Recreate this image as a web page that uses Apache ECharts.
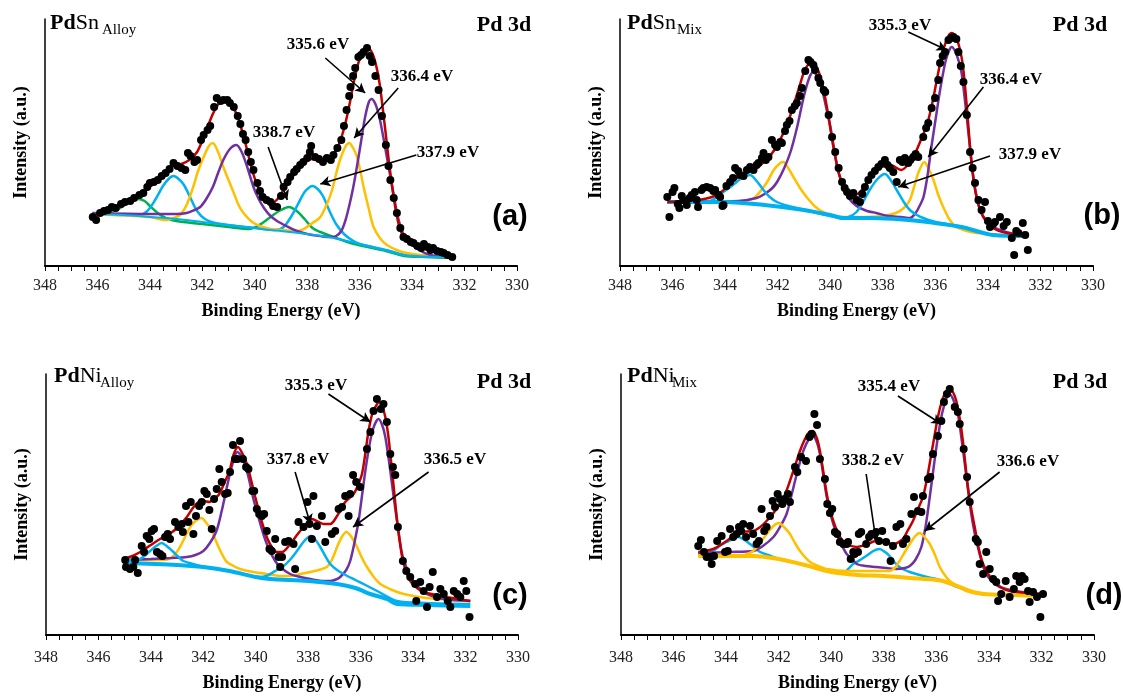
<!DOCTYPE html>
<html>
<head>
<meta charset="utf-8">
<script src="https://cdn.jsdelivr.net/npm/echarts@6/dist/echarts.min.js"></script>
<style>
  html, body { margin: 0; padding: 0; background: #fff; }
  #main { width: 1123px; height: 697px; }
</style>
</head>
<body>
<div id="main"></div>
<script>
// Pd 3d XPS spectra, four samples. points are [binding energy (eV), intensity (a.u.)]
var SERIF = '"Liberation Serif", "Times New Roman", serif';

// ---------- (a) PdSn alloy ----------
var aDots = [[346.18,49],[346.05,46],[345.9,53],[345.75,55],[345.6,56],[345.45,59],[345.3,58],[345.1,62],[344.95,64],[344.75,65],[344.6,68],[344.4,71],[344.25,73],[344.1,79],[344.0,83],[343.85,84],[343.7,86],[343.55,90],[343.4,93],[343.25,97],[343.1,103],[342.95,100],[342.8,98],[342.65,96],[342.55,113],[342.45,110],[342.3,104],[342.2,106],[342.05,126],[341.95,131],[341.8,136],[341.7,140],[341.55,159],[341.45,168],[341.3,165],[341.2,166],[341.05,166],[340.95,163],[340.8,159],[340.65,150],[340.55,142],[340.45,132],[340.35,126],[340.25,114],[340.15,104],[340.05,96],[339.9,83],[339.8,75],[339.7,69],[339.55,66],[339.4,64],[339.3,60],[339.15,59],[339.0,70],[338.9,79],[338.75,84],[338.65,89],[338.5,94],[338.4,97],[338.27,101],[338.15,104],[338.0,108],[337.9,114],[337.85,120],[337.7,109],[337.55,107],[337.4,104],[337.25,108],[337.1,106],[337.0,111],[336.85,118],[336.7,126],[336.6,140],[336.5,156],[336.4,170],[336.35,179],[336.25,190],[336.17,198],[336.05,209],[335.95,211],[335.85,214],[335.72,218],[335.62,210],[335.53,204],[335.4,190],[335.28,176],[335.15,150],[335.0,121],[334.9,100],[334.83,86],[334.7,68],[334.58,53],[334.45,38],[334.33,29],[334.2,27],[334.05,24],[333.95,23],[333.8,20],[333.65,18],[333.55,22],[333.4,19],[333.3,16],[333.2,18],[333.05,15],[332.9,14],[332.8,13],[332.65,11],[332.47,9]];
var aFit = [[346.2,50],[345.8,54],[345.4,58],[345.0,63],[344.6,68],[344.2,75],[343.8,84],[343.4,94],[343.1,100],[342.8,102],[342.5,106],[342.2,114],[341.9,132],[341.6,152],[341.35,163],[341.1,166],[340.85,160],[340.6,145],[340.35,122],[340.1,96],[339.85,77],[339.6,66],[339.35,63],[339.1,68],[338.85,79],[338.6,88],[338.35,96],[338.1,103],[337.85,107],[337.6,106],[337.35,105],[337.1,109],[336.85,118],[336.6,137],[336.4,160],[336.2,187],[336.0,207],[335.8,215],[335.65,217],[335.45,208],[335.25,184],[335.05,142],[334.85,97],[334.65,60],[334.45,36],[334.2,25],[333.9,21],[333.5,17],[333.0,13],[332.47,9]];
var aGreen = [[346.2,51],[345.6,53],[345.2,57],[344.9,62],[344.65,66],[344.45,67],[344.2,65],[344.0,60],[343.7,53],[343.4,48],[343.0,45],[342.0,42],[341.0,39],[340.2,37],[339.9,40],[339.6,45],[339.3,51],[339.0,56],[338.7,59],[338.4,55],[338.1,47],[337.8,38],[337.5,34],[337.0,29],[336.2,22],[335.0,15],[334.3,10],[333.5,9],[332.47,8]];
var aCyan = [[346.2,52],[345.0,51],[344.4,51],[344.1,55],[343.8,66],[343.5,80],[343.25,88],[343.1,90],[342.9,87],[342.7,81],[342.45,68],[342.2,55],[341.9,47],[341.5,43],[341.0,41],[340.0,38],[339.2,36],[338.9,39],[338.6,50],[338.35,62],[338.1,74],[337.9,79],[337.8,80],[337.6,77],[337.4,70],[337.15,55],[336.9,42],[336.6,32],[336.3,26],[336.0,22],[335.0,16],[334.3,11],[333.5,9.5],[332.47,9]];
var aYellow = [[346.2,52],[344.0,49],[343.4,46],[343.1,48],[342.85,51],[342.6,61],[342.35,79],[342.15,96],[341.95,109],[341.75,120],[341.6,123],[341.4,114],[341.2,99],[341.0,86],[340.8,73],[340.6,60],[340.4,52],[340.1,44],[339.8,40],[339.4,37],[339.0,36],[338.5,35],[338.2,36],[337.8,43],[337.5,49],[337.25,62],[337.05,76],[336.9,92],[336.75,106],[336.55,119],[336.4,123],[336.25,118],[336.1,109],[335.95,92],[335.85,79],[335.65,57],[335.47,39],[335.2,27],[334.96,21],[334.5,15],[334.0,12],[333.3,10],[332.47,9]];
var aPurple = [[346.2,53],[344.0,52],[343.0,52],[342.6,53],[342.3,56],[342.08,59],[341.85,67],[341.6,79],[341.4,93],[341.2,106],[340.95,117],[340.7,121],[340.5,114],[340.3,100],[340.05,79],[339.85,67],[339.65,58],[339.4,50],[339.15,45],[338.8,40],[338.4,35],[338.0,32],[337.5,30],[337.1,29],[336.9,30],[336.7,35],[336.55,45],[336.4,60],[336.25,78],[336.1,100],[335.95,124],[335.8,148],[335.65,164],[335.55,167],[335.4,162],[335.25,149],[335.1,129],[334.95,107],[334.75,78],[334.55,50],[334.35,33],[334.1,24],[333.8,17],[333.3,11],[332.47,9]];
var aBase = [[346.2,52],[345.0,51],[344.0,49],[343.0,47],[342.0,44],[341.0,41],[340.0,38],[339.4,36],[339.0,35],[338.0,32],[337.0,28],[336.0,22],[335.0,16],[334.3,11],[333.5,9.5],[332.47,9]];

// ---------- (b) PdSn mix ----------
var bDots = [[346.2,69],[346.12,49],[346.0,74],[345.93,78],[345.8,62],[345.74,58],[345.65,70],[345.59,66],[345.46,61],[345.35,68],[345.27,71],[345.15,74],[345.08,66],[345.03,59],[344.9,76],[344.83,78],[344.7,79],[344.57,78],[344.45,75],[344.38,76],[344.25,71],[344.19,69],[344.1,60],[344.06,61],[343.95,80],[343.81,84],[343.7,88],[343.62,98],[343.5,95],[343.43,91],[343.3,90],[343.17,96],[343.05,99],[342.92,96],[342.8,101],[342.73,103],[342.6,108],[342.54,113],[342.45,106],[342.35,109],[342.22,126],[342.1,121],[342.03,119],[341.9,124],[341.84,123],[341.72,135],[341.65,141],[341.55,145],[341.46,156],[341.35,160],[341.27,163],[341.15,170],[341.08,178],[340.95,195],[340.83,206],[340.75,204],[340.64,201],[340.58,196],[340.45,188],[340.38,183],[340.25,176],[340.19,174],[340.06,151],[339.93,129],[339.81,114],[339.68,98],[339.55,84],[339.45,78],[339.36,74],[339.25,70],[339.12,73],[339.0,66],[338.87,64],[338.78,72],[338.68,79],[338.55,86],[338.43,91],[338.3,95],[338.17,99],[338.05,102],[337.92,106],[337.82,101],[337.73,98],[337.6,94],[337.47,84],[337.35,106],[337.25,104],[337.16,108],[337.03,103],[336.95,106],[336.84,109],[336.75,112],[336.65,109],[336.46,129],[336.35,138],[336.27,143],[336.14,158],[336.01,168],[335.89,186],[335.82,203],[335.72,210],[335.63,214],[335.5,226],[335.4,228],[335.31,229],[335.2,227],[335.12,214],[335.03,200],[334.93,184],[334.8,151],[334.68,114],[334.58,98],[334.49,83],[334.36,66],[334.24,56],[334.11,64],[334.0,45],[333.92,39],[333.8,42],[333.73,44],[333.54,49],[333.4,40],[333.28,44],[333.09,28],[333.0,11],[332.92,35],[332.84,33],[332.67,43],[332.58,31],[332.48,16]];
var bFit = [[346.2,64],[345.5,65],[345.0,66],[344.5,69],[344.1,75],[343.7,85],[343.3,92],[343.0,95],[342.7,100],[342.4,107],[342.1,117],[341.8,132],[341.5,152],[341.2,177],[340.95,197],[340.7,204],[340.5,198],[340.3,182],[340.1,155],[339.9,122],[339.7,96],[339.5,80],[339.3,73],[339.06,71],[338.8,76],[338.5,88],[338.2,99],[337.92,103],[337.6,100],[337.3,96],[337.05,101],[336.8,111],[336.55,126],[336.3,143],[336.1,165],[335.9,192],[335.7,216],[335.5,230],[335.38,233],[335.2,228],[335.06,216],[334.95,200],[334.8,159],[334.62,102],[334.43,69],[334.17,49],[333.67,36],[332.9,31],[332.5,29]];
var bCyan = [[346.2,64],[344.6,65],[344.3,69],[344.07,74],[343.8,79],[343.56,84],[343.3,89],[343.05,91],[342.8,85],[342.54,76],[342.3,69],[342.03,64],[341.6,60],[341.27,58],[340.5,53],[340.0,50],[339.6,48],[339.3,49],[339.0,54],[338.75,64],[338.5,76],[338.2,87],[337.92,92],[337.7,86],[337.47,76],[337.2,64],[336.97,56],[336.7,51],[336.46,48],[336.0,44],[335.0,39],[334.3,34],[333.8,31],[332.5,30]];
var bYellow = [[346.2,64],[344.0,64],[343.3,65],[342.9,68],[342.65,75],[342.4,84],[342.15,96],[341.9,103],[341.78,104],[341.6,98],[341.4,89],[341.15,78],[340.9,69],[340.6,60],[340.4,56],[340.0,51],[339.6,49],[339.0,49],[338.0,50],[337.5,53],[337.2,58],[336.97,66],[336.8,80],[336.65,93],[336.42,104],[336.25,97],[336.07,86],[335.9,72],[335.7,59],[335.45,46],[335.2,39],[334.8,35],[334.43,33],[333.5,31],[332.5,30]];
var bPurple = [[346.2,64],[343.5,65],[342.8,68],[342.5,72],[342.2,78],[342.0,85],[341.75,98],[341.5,115],[341.25,140],[341.0,170],[340.8,188],[340.65,194],[340.5,190],[340.3,175],[340.15,158],[340.0,140],[339.85,117],[339.7,95],[339.5,79],[339.3,68],[339.0,60],[338.6,55],[338.25,53],[337.8,50],[337.3,49],[336.97,48],[336.75,53],[336.6,60],[336.45,69],[336.3,90],[336.15,119],[336.0,145],[335.8,179],[335.6,206],[335.45,217],[335.38,219],[335.25,215],[335.1,204],[335.0,193],[334.87,165],[334.74,133],[334.62,104],[334.5,79],[334.35,60],[334.17,49],[333.9,41],[333.54,36],[333.0,32],[332.5,30]];
var bBase = [[346.2,64],[344.0,64],[342.5,61],[341.0,56],[340.0,51],[339.5,48],[338.5,48],[337.5,47],[337.0,46],[336.0,43],[335.0,39],[334.3,34],[333.8,31],[332.5,30]];

// ---------- (c) PdNi alloy ----------
var cDots = [[344.98,75],[344.95,68],[344.8,66],[344.67,68],[344.6,75],[344.5,62],[344.35,89],[344.26,83],[344.16,99],[344.06,96],[343.97,104],[343.88,106],[343.77,83],[343.65,81],[343.56,79],[343.46,98],[343.36,101],[343.27,96],[343.08,113],[342.95,108],[342.82,111],[342.78,103],[342.66,129],[342.57,113],[342.48,133],[342.38,101],[342.28,119],[342.16,129],[342.06,133],[341.96,144],[341.87,141],[341.77,125],[341.68,106],[341.59,136],[341.49,146],[341.39,166],[341.3,153],[341.17,141],[341.07,142],[340.98,163],[340.87,190],[340.79,176],[340.7,176],[340.6,194],[340.49,176],[340.37,168],[340.28,166],[340.13,144],[340.06,144],[339.96,126],[339.87,121],[339.77,119],[339.68,121],[339.58,104],[339.48,86],[339.39,84],[339.26,96],[339.13,78],[339.07,68],[339.0,78],[338.88,93],[338.75,94],[338.56,91],[338.5,66],[338.37,113],[338.18,108],[338.03,133],[337.95,111],[337.86,96],[337.8,139],[337.67,109],[337.48,119],[337.35,93],[337.1,101],[336.97,104],[336.84,126],[336.71,128],[336.59,139],[336.46,119],[336.4,141],[336.29,160],[336.17,153],[336.02,148],[335.76,186],[335.63,203],[335.51,224],[335.38,236],[335.23,226],[335.13,231],[335.0,213],[334.87,181],[334.77,168],[334.68,160],[334.58,108],[334.39,74],[334.26,64],[334.11,58],[333.92,51],[333.88,34],[333.73,53],[333.6,44],[333.47,28],[333.37,48],[333.25,63],[333.09,38],[332.96,46],[332.83,41],[332.68,34],[332.58,28],[332.45,44],[332.32,41],[332.2,38],[332.07,54],[331.97,44],[331.85,18]];
var cFit = [[345.05,76],[344.7,79],[344.41,83],[344.0,90],[343.65,96],[343.3,101],[343.0,107],[342.63,118],[342.4,127],[342.19,133],[342.0,134],[341.77,133],[341.55,137],[341.39,141],[341.2,152],[341.0,164],[340.85,180],[340.68,188],[340.5,181],[340.34,171],[340.18,155],[340.02,138],[339.85,121],[339.71,108],[339.55,96],[339.39,88],[339.2,83],[339.0,83],[338.69,91],[338.4,101],[338.18,108],[337.86,116],[337.6,113],[337.42,111],[337.16,111],[336.9,119],[336.59,133],[336.27,141],[336.1,150],[335.95,161],[335.82,182],[335.7,204],[335.55,222],[335.44,228],[335.3,233],[335.15,226],[335.06,218],[334.95,200],[334.87,181],[334.74,148],[334.61,114],[334.48,88],[334.36,71],[334.11,54],[333.85,47],[333.6,43],[332.96,39],[331.82,34]];
var cCyan = [[345.05,74],[344.75,75],[344.41,76],[344.2,80],[344.03,84],[343.8,89],[343.59,92],[343.4,89],[343.14,83],[342.95,78],[342.76,74],[342.4,71],[342.12,69],[341.5,66],[340.85,63],[340.3,60],[339.83,58],[339.6,59],[339.45,61],[339.2,65],[338.94,69],[338.7,75],[338.43,84],[338.15,94],[337.9,99],[337.72,95],[337.54,88],[337.35,79],[337.16,71],[336.9,65],[336.65,61],[336.2,55],[335.89,51],[335.3,43],[334.61,34],[333.5,32],[331.82,31]];
var cYellow = [[345.05,75],[343.5,75],[343.14,79],[342.89,88],[342.7,98],[342.5,108],[342.3,114],[342.08,117],[341.88,112],[341.68,104],[341.55,96],[341.42,88],[341.25,79],[341.1,73],[340.85,69],[340.6,66],[340.1,63],[339.58,61],[339.0,59],[338.69,59],[338.3,61],[337.92,63],[337.6,65],[337.29,68],[337.1,75],[336.9,88],[336.72,98],[336.55,103],[336.35,98],[336.14,88],[335.95,77],[335.76,68],[335.5,58],[335.25,51],[334.8,45],[334.36,41],[333.5,37],[331.82,34]];
var cPurple = [[345.05,75],[344.0,76],[343.2,77],[342.63,78],[342.3,80],[342.0,84],[341.75,92],[341.5,104],[341.3,124],[341.1,148],[340.9,170],[340.7,183],[340.5,177],[340.28,158],[340.1,137],[339.9,118],[339.7,100],[339.5,86],[339.26,74],[339.07,68],[338.69,61],[338.3,58],[337.92,56],[337.4,54],[337.16,54],[336.9,56],[336.78,58],[336.55,65],[336.4,74],[336.24,92],[336.08,114],[335.92,145],[335.76,175],[335.55,204],[335.32,216],[335.18,210],[335.06,198],[334.9,170],[334.74,138],[334.58,108],[334.42,81],[334.25,67],[334.11,58],[333.8,48],[333.47,41],[332.8,36],[331.82,34]];
var cBase = [[345.05,72],[343.0,70],[342.0,68],[341.0,64],[340.0,58],[339.45,56],[338.0,54],[336.9,51],[336.2,47],[335.63,41],[335.0,36],[334.61,31],[333.5,30],[331.82,29]];

// ---------- (d) PdNi mix ----------
var dDots = [[345.06,89],[344.96,95],[344.84,83],[344.74,78],[344.61,78],[344.55,71],[344.46,79],[344.34,94],[344.17,99],[344.04,83],[343.94,84],[343.85,106],[343.73,98],[343.6,101],[343.51,108],[343.43,104],[343.35,111],[343.24,98],[343.09,109],[342.97,101],[342.84,91],[342.75,94],[342.65,126],[342.55,104],[342.46,108],[342.33,119],[342.23,134],[342.14,128],[342.04,141],[341.95,136],[341.86,131],[341.76,136],[341.65,141],[341.57,133],[341.38,168],[341.29,163],[341.15,178],[340.96,174],[340.83,198],[340.74,201],[340.64,221],[340.54,210],[340.43,176],[340.24,156],[340.15,131],[340.05,122],[339.96,126],[339.86,103],[339.77,101],[339.67,93],[339.54,91],[339.41,91],[339.36,93],[339.26,76],[339.16,83],[339.11,81],[338.98,83],[338.95,101],[338.86,103],[338.67,91],[338.56,98],[338.47,101],[338.29,103],[338.18,94],[338.06,104],[337.91,93],[337.74,74],[337.65,89],[337.52,108],[337.37,111],[337.27,91],[337.14,96],[336.95,121],[336.85,138],[336.7,124],[336.57,123],[336.51,139],[336.32,156],[336.23,158],[336.13,181],[335.94,199],[335.81,214],[335.71,233],[335.6,241],[335.49,246],[335.3,228],[335.18,223],[335.11,211],[334.96,186],[334.83,158],[334.73,133],[334.5,96],[334.42,93],[334.35,71],[334.22,61],[334.1,83],[333.97,66],[333.84,56],[333.72,53],[333.65,34],[333.53,41],[333.36,54],[333.21,38],[333.05,46],[332.96,59],[332.83,53],[332.74,59],[332.64,56],[332.51,44],[332.45,33],[332.32,43],[332.17,38],[332.04,18],[331.94,41]];
var dFit = [[345.06,83],[344.49,86],[343.98,94],[343.47,103],[342.97,104],[342.7,108],[342.46,114],[342.2,122],[341.95,131],[341.75,141],[341.57,154],[341.38,169],[341.19,184],[341.0,196],[340.83,203],[340.7,204],[340.55,197],[340.43,184],[340.3,163],[340.17,141],[340.05,126],[339.92,114],[339.67,98],[339.41,91],[339.05,88],[338.7,90],[338.29,94],[337.95,93],[337.65,91],[337.27,96],[337.1,104],[336.89,114],[336.7,126],[336.51,138],[336.35,157],[336.19,181],[336.05,202],[335.94,218],[335.8,233],[335.68,241],[335.5,247],[335.35,242],[335.24,234],[335.1,215],[334.99,194],[334.9,172],[334.8,148],[334.67,126],[334.54,108],[334.38,86],[334.22,71],[334.0,60],[333.84,54],[333.5,47],[333.21,44],[332.5,42],[331.94,41]];
var dCyan = [[345.06,81],[344.75,82],[344.49,84],[344.2,90],[343.98,93],[343.75,96],[343.54,98],[343.3,95],[343.09,91],[342.9,87],[342.71,83],[342.4,80],[342.0,76],[341.5,73],[341.0,70],[340.5,66],[340.0,63],[339.55,62],[339.35,66],[339.17,71],[338.9,75],[338.67,79],[338.4,84],[338.16,86],[337.95,83],[337.78,79],[337.6,73],[337.4,68],[337.2,65],[337.01,63],[336.5,59],[336.0,56],[335.75,54],[335.3,49],[334.73,44],[334.2,41],[333.0,40],[331.94,39]];
var dYellow = [[345.06,79],[343.47,79],[343.2,81],[342.97,84],[342.7,92],[342.46,101],[342.2,109],[341.99,112],[341.8,108],[341.57,101],[341.38,92],[341.19,84],[341.0,78],[340.81,73],[340.5,69],[340.17,66],[339.41,64],[338.29,64],[337.78,64],[337.55,68],[337.4,74],[337.2,83],[337.01,91],[336.8,99],[336.63,102],[336.45,98],[336.25,91],[336.05,80],[335.87,68],[335.68,60],[335.49,54],[335.2,49],[334.86,44],[334.22,41],[333.0,40],[331.94,39]];
var dPurple = [[345.06,82],[343.85,83],[342.97,84],[342.6,89],[342.2,98],[341.95,108],[341.7,121],[341.5,141],[341.31,161],[341.05,185],[340.8,198],[340.7,199],[340.55,193],[340.43,181],[340.3,160],[340.17,138],[340.0,118],[339.79,101],[339.6,90],[339.41,81],[339.2,76],[339.03,71],[338.7,69],[338.29,68],[337.9,67],[337.52,66],[337.2,67],[337.01,69],[336.8,75],[336.57,88],[336.4,110],[336.25,138],[336.1,168],[335.94,198],[335.75,225],[335.5,241],[335.35,235],[335.18,221],[335.05,198],[334.93,174],[334.8,147],[334.67,121],[334.55,103],[334.42,88],[334.25,71],[334.1,61],[333.85,53],[333.59,48],[333.0,44],[331.94,41]];
var dBase = [[345.06,79],[343.0,79],[342.0,76],[341.0,70],[340.0,63],[339.0,60],[338.0,59],[337.0,57],[336.0,55],[335.75,54],[335.0,47],[334.73,44],[334.2,41],[333.0,40],[331.94,39]];

// peak annotations: [label, arrow start, arrow end] in axis units
var aPeaks = [['335.6 eV',[337.31,208],[335.79,173]],['336.4 eV',[334.53,178],[336.21,128]],['337.9 eV',[333.84,111],[337.5,82]],['338.7 eV',[339.49,119],[338.76,66]]];
var bPeaks = [['335.3 eV',[337.03,234],[335.57,216]],['336.4 eV',[334.17,179],[336.27,109]],['337.9 eV',[333.92,110],[337.41,79]]];
var cPeaks = [['335.3 eV',[337.23,241],[335.63,213]],['337.8 eV',[338.5,163],[337.92,111]],['336.5 eV',[333.41,163],[336.29,108]]];
var dPeaks = [['335.4 eV',[337.46,239],[335.81,211]],['338.2 eV',[338.67,161],[338.29,93]],['336.6 eV',[333.59,163],[336.44,104]]];
// label centres in pixels, same order as above
var aLabelPos = [[318,45],[422,77],[448,153],[284,133]];
var bLabelPos = [[900,26],[1011,80],[1030,155]];
var cLabelPos = [[316,386],[298,460],[455,460]];
var dLabelPos = [[889,387],[873,461],[1028,462]];

var COL = { red: '#C00000', purple: '#7030A0', yellow: '#FFC000', cyan: '#00B0F0', green: '#00B050' };

var panels = [
  { grid: { left: 45, top: 19, width: 472, height: 247 }, ymax: 247, lblMargin: 12, nameGap: 36,
    main: 'PdSn', sub: 'Alloy', titlePos: [50, 23], subPos: [102, 30], tag: '(a)', tagPos: [510, 217], pdPos: [504, 25],
    dots: aDots, fit: aFit, comps: [[aGreen, COL.green], [aCyan, COL.cyan], [aYellow, COL.yellow], [aPurple, COL.purple]],
    base: [aBase, COL.cyan, 2], peaks: aPeaks, labelPos: aLabelPos },
  { grid: { left: 620, top: 19, width: 473, height: 247 }, ymax: 247, lblMargin: 12, nameGap: 36,
    main: 'PdSn', sub: 'Mix', titlePos: [627, 23], subPos: [677, 30], tag: '(b)', tagPos: [1102, 216], pdPos: [1080, 25],
    dots: bDots, fit: bFit, comps: [[bYellow, COL.yellow], [bPurple, COL.purple], [bCyan, COL.cyan]],
    base: [bBase, COL.cyan, 4], peaks: bPeaks, labelPos: bLabelPos },
  { grid: { left: 46, top: 374, width: 472, height: 261 }, ymax: 261, lblMargin: 15, nameGap: 39,
    main: 'PdNi', sub: 'Alloy', titlePos: [54, 376], subPos: [100, 383], tag: '(c)', tagPos: [510, 596], pdPos: [504, 382],
    dots: cDots, fit: cFit, comps: [[cYellow, COL.yellow], [cPurple, COL.purple], [cCyan, COL.cyan]],
    base: [cBase, COL.cyan, 4], peaks: cPeaks, labelPos: cLabelPos },
  { grid: { left: 621, top: 374, width: 473, height: 261 }, ymax: 261, lblMargin: 15, nameGap: 39,
    main: 'PdNi', sub: 'Mix', titlePos: [627, 376], subPos: [672, 383], tag: '(d)', tagPos: [1104, 596], pdPos: [1080, 382],
    dots: dDots, fit: dFit, comps: [[dCyan, COL.cyan], [dPurple, COL.purple], [dYellow, COL.yellow]],
    base: [dBase, COL.yellow, 4], peaks: dPeaks, labelPos: dLabelPos }
];

var chart = echarts.init(document.getElementById('main'), null, { renderer: 'canvas' });

var grids = [], xAxes = [], yAxes = [], series = [], graphics = [];

panels.forEach(function (p, i) {
  grids.push(p.grid);
  xAxes.push({
    gridIndex: i, type: 'value', min: 330, max: 348, interval: 2, inverse: true,
    name: 'Binding Energy (eV)', nameLocation: 'middle', nameGap: p.nameGap,
    nameTextStyle: { fontFamily: SERIF, fontWeight: 'bold', fontSize: 18, color: '#000' },
    axisLine: { show: true, onZero: false, lineStyle: { color: '#000', width: 2 } },
    axisTick: { show: true, length: 5, lineStyle: { color: '#000', width: 1 } },
    minorTick: { show: true, splitNumber: 4, length: 5, lineStyle: { color: '#000', width: 1 } },
    splitLine: { show: false },
    axisLabel: { fontFamily: SERIF, fontSize: 16, color: '#222', margin: p.lblMargin }
  });
  yAxes.push({
    gridIndex: i, type: 'value', min: 0, max: p.ymax,
    name: 'Intensity (a.u.)', nameLocation: 'middle', nameGap: 15, nameRotate: 90,
    nameTextStyle: { fontFamily: SERIF, fontWeight: 'bold', fontSize: 18, color: '#000' },
    axisLine: { show: true, lineStyle: { color: '#000', width: 1.5 } },
    axisTick: { show: false }, axisLabel: { show: false }, splitLine: { show: false }
  });

  p.comps.forEach(function (c) {
    series.push({
      type: 'line', xAxisIndex: i, yAxisIndex: i, data: c[0], smooth: 0.3,
      showSymbol: false, z: 2, lineStyle: { color: c[1], width: 2.5 }
    });
  });
  series.push({
    type: 'line', xAxisIndex: i, yAxisIndex: i, data: p.base[0], smooth: 0.3,
    showSymbol: false, z: 3, lineStyle: { color: p.base[1], width: p.base[2] }
  });
  series.push({
    type: 'line', xAxisIndex: i, yAxisIndex: i, data: p.fit, smooth: 0.3,
    showSymbol: false, z: 4, lineStyle: { color: COL.red, width: 2.5 },
    markLine: {
      silent: true, symbol: ['none', 'arrow'], symbolSize: [8, 10],
      lineStyle: { color: '#000', width: 1.6, type: 'solid' }, label: { show: false },
      data: p.peaks.map(function (pk) { return [{ coord: pk[1] }, { coord: pk[2] }]; })
    }
  });
  series.push({
    type: 'scatter', xAxisIndex: i, yAxisIndex: i, data: p.dots, symbolSize: 8, z: 5,
    itemStyle: { color: '#000', opacity: 1 }
  });

  // titles and annotations
  graphics.push({
    type: 'text', x: p.titlePos[0], y: p.titlePos[1],
    style: { text: '{b|Pd}{r|' + p.main.slice(2) + '}', textAlign: 'left', textVerticalAlign: 'middle',
      rich: { b: { fontFamily: SERIF, fontWeight: 'bold', fontSize: 22, fill: '#000' },
              r: { fontFamily: SERIF, fontSize: 22, fill: '#000' } } }
  });
  graphics.push({
    type: 'text', x: p.subPos[0], y: p.subPos[1],
    style: { text: p.sub, font: '15px ' + SERIF, fill: '#000', textAlign: 'left', textVerticalAlign: 'middle' }
  });
  graphics.push({
    type: 'text', x: p.pdPos[0], y: p.pdPos[1],
    style: { text: 'Pd 3d', font: 'bold 22px ' + SERIF, fill: '#000', textAlign: 'center', textVerticalAlign: 'middle' }
  });
  graphics.push({
    type: 'text', x: p.tagPos[0], y: p.tagPos[1],
    style: { text: p.tag, font: 'bold 29px "Liberation Sans", Arial, sans-serif', fill: '#000', textAlign: 'center', textVerticalAlign: 'middle' }
  });
  p.peaks.forEach(function (pk, k) {
    graphics.push({
      type: 'text', x: p.labelPos[k][0], y: p.labelPos[k][1],
      style: { text: pk[0], font: 'bold 17px ' + SERIF, fill: '#000', textAlign: 'center', textVerticalAlign: 'middle' }
    });
  });
});

chart.setOption({
  backgroundColor: '#fff',
  animation: false,
  grid: grids,
  xAxis: xAxes,
  yAxis: yAxes,
  series: series,
  graphic: graphics
});

window.addEventListener('resize', function () { chart.resize(); });
</script>
</body>
</html>
